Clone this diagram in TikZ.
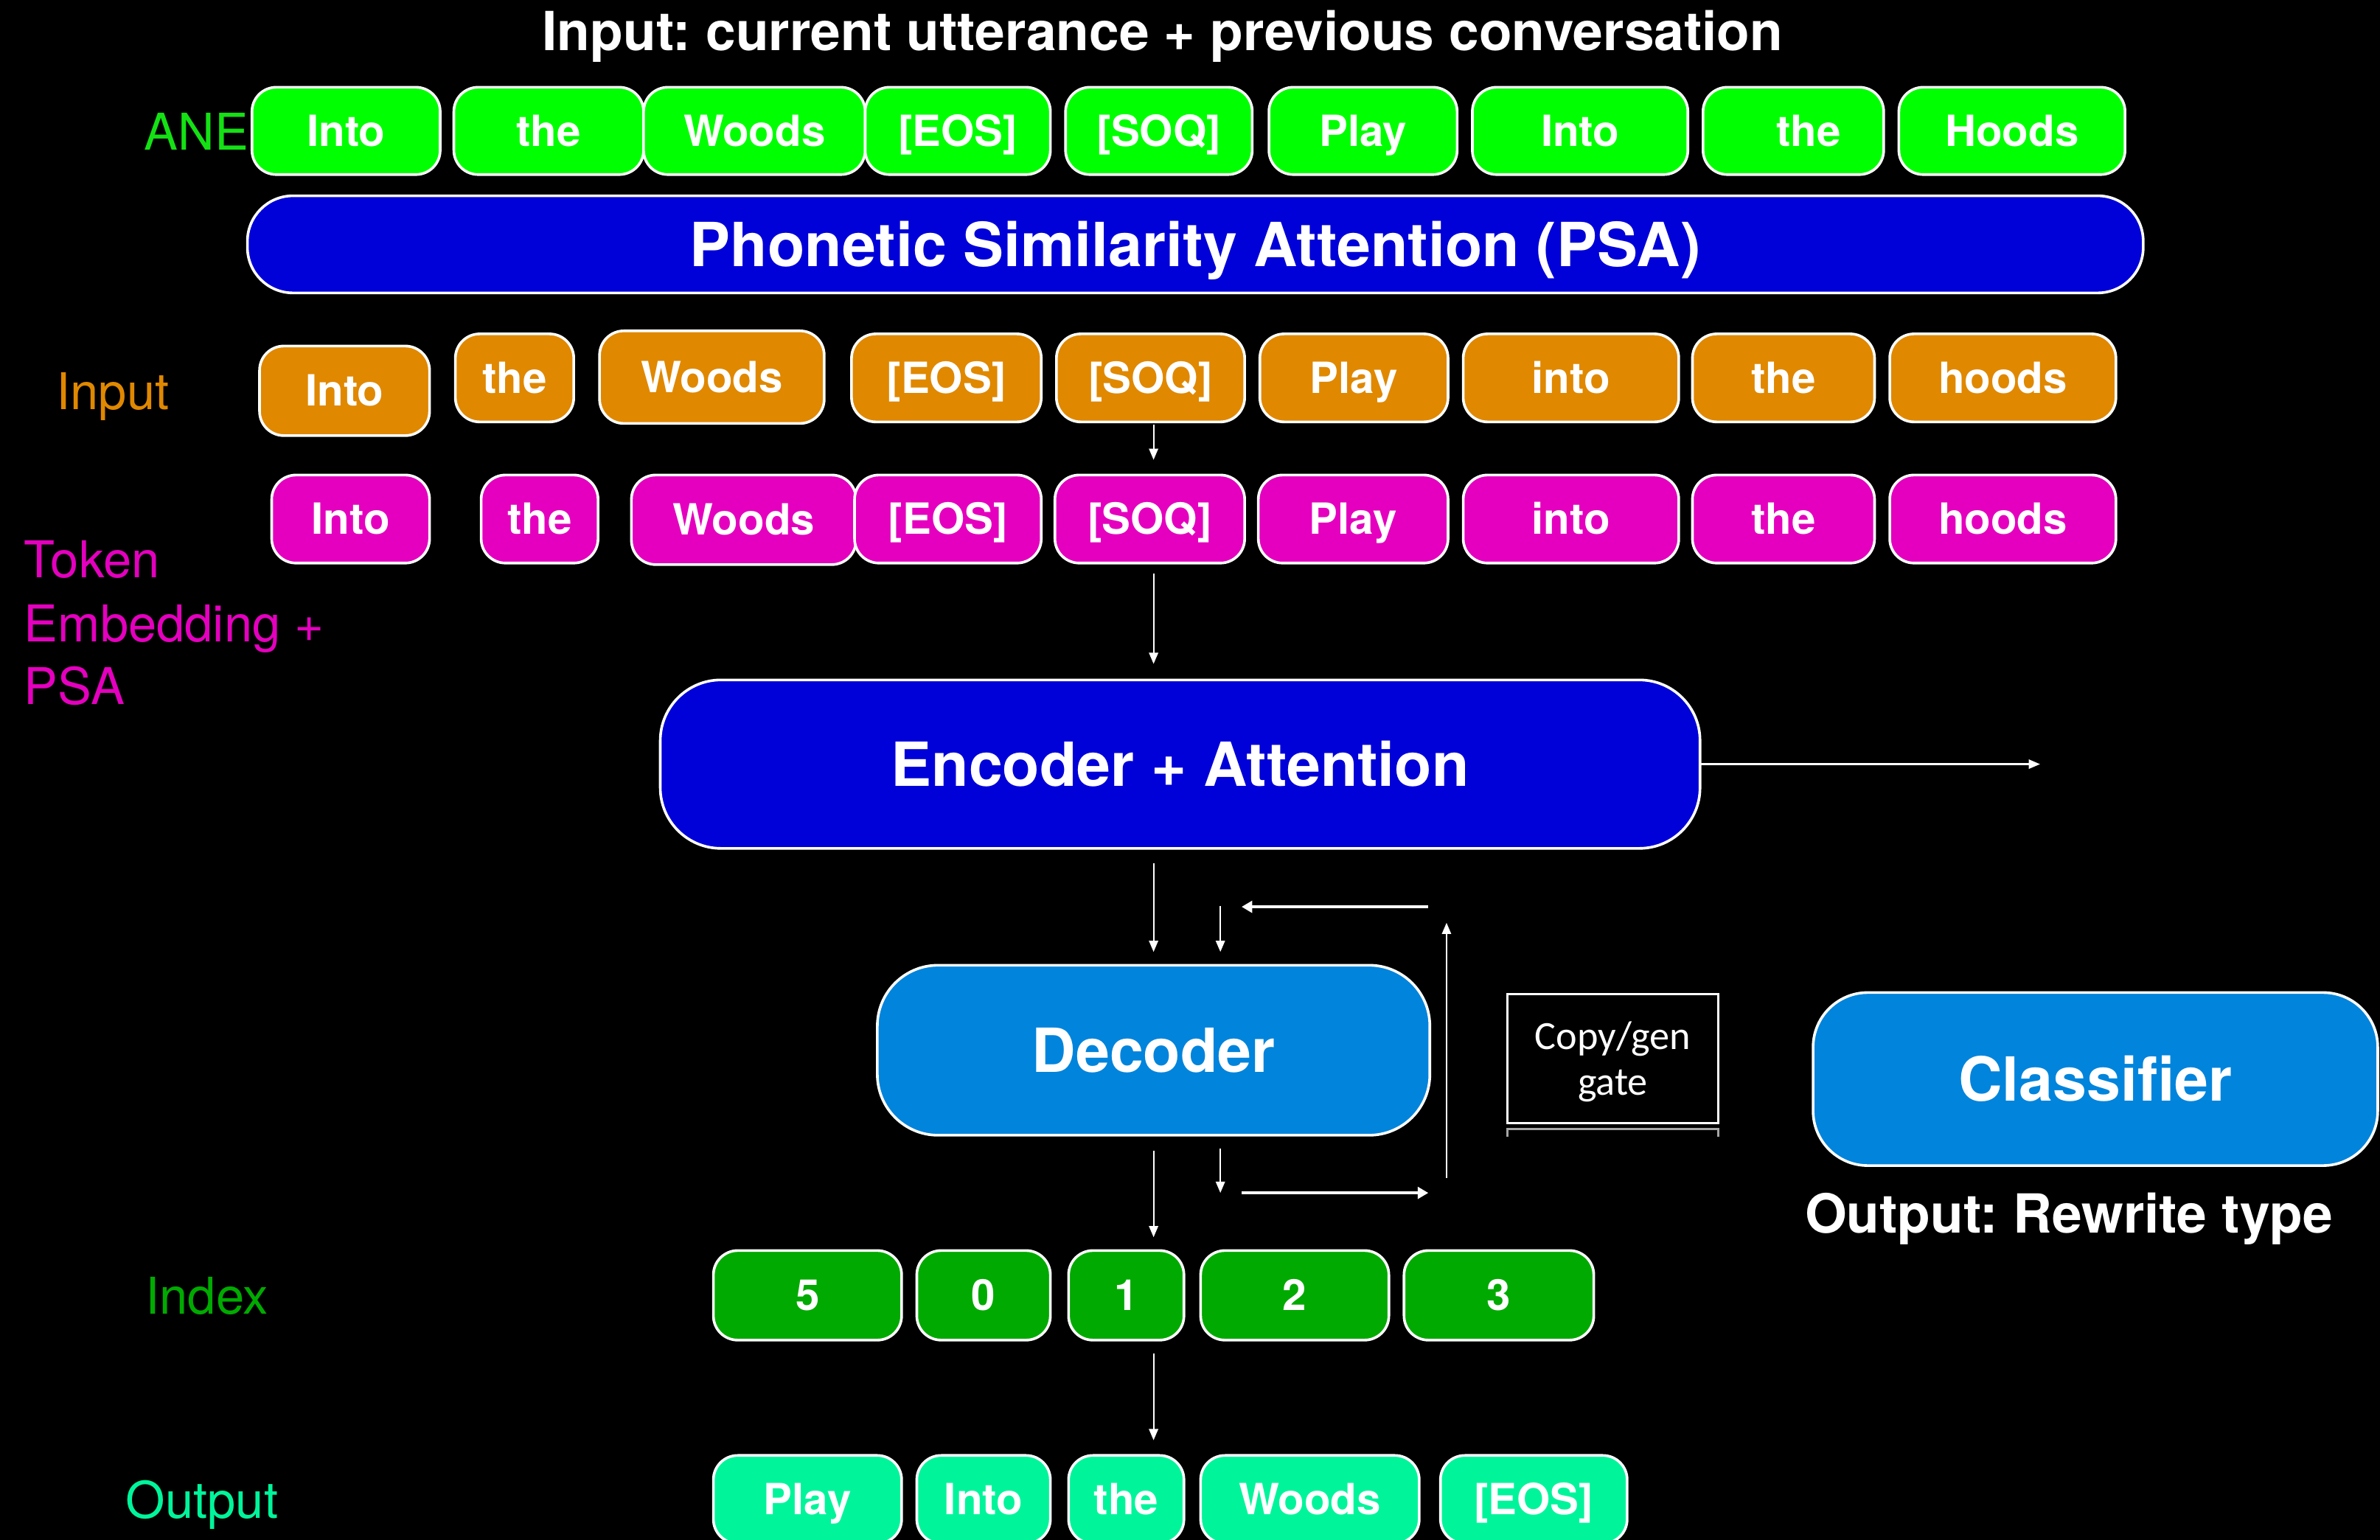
\documentclass[tikz,border=0pt]{standalone}
\usepackage{fontspec}
\setmainfont{TeX Gyre Heros}
\newfontfamily\gillfont{Carlito}
\usetikzlibrary{arrows.meta}
\frenchspacing
\definecolor{aneg}{RGB}{0,255,0}
\definecolor{anel}{RGB}{20,225,20}
\definecolor{psab}{RGB}{0,0,216}
\definecolor{inor}{RGB}{224,136,0}
\definecolor{magt}{RGB}{228,0,190}
\definecolor{decb}{RGB}{0,132,220}
\definecolor{idxg}{RGB}{0,170,0}
\definecolor{outm}{RGB}{0,245,155}
\tikzset{
 tok/.style={draw=white, line width=1pt, rounded corners=0.32cm, inner sep=0pt, outer sep=0pt, text=white,
   font=\fontsize{16.1}{18}\selectfont\bfseries, text height=11.5pt, text depth=0pt},
 bigbox/.style={draw=white, line width=1pt, inner sep=0pt, outer sep=0pt, text=white,
   font=\fontsize{22.8}{26}\selectfont\bfseries, text height=16.4pt, text depth=0pt},
 lbl/.style={inner sep=0pt, outer sep=0pt, anchor=base west, font=\fontsize{19}{24}\selectfont},
 ttl/.style={inner sep=0pt, outer sep=0pt, anchor=base, text=white, font=\fontsize{20.2}{24}\selectfont\bfseries},
 gatebox/.style={draw=white, line width=0.8pt, fill=black, inner sep=0pt, outer sep=0pt, text=white, align=center,
   font=\gillfont\fontsize{15}{17.1}\selectfont, text height=0.956cm, text depth=0pt},
 arr/.style={white, line width=0.6pt, -{Triangle[length=4.2pt,width=3.4pt]}},
 arrb/.style={white, line width=1.1pt, -{Triangle[length=4pt,width=4.4pt]}},
}
\newcommand\tb[7]{\node[tok,fill=#6,minimum width={(#3-#2)*0.02cm},minimum height={(#5-#4)*0.02cm}] (#1) at ({(#2+#3)/2},{(#4+#5)/2}) {#7};}
\begin{document}
\begin{tikzpicture}[x=0.02cm,y=-0.02cm]
\useasboundingbox (0,0) rectangle (1568,1014.7);
\fill[black] (0,0) rectangle (1568,1014.7);
\clip (0,0) rectangle (1568,1014.7);

% title
\node[ttl] (title) at (766,33.5) {Input: current utterance + previous conversation};

% ANE row
\node[lbl,text=anel] (lane) at (95,99) {ANE};
\tb{a1}{166}{290}{57.5}{115}{aneg}{Into}
\tb{a2}{299}{424}{57.5}{115}{aneg}{the}
\tb{a3}{424}{570}{57.5}{115}{aneg}{Woods}
\tb{a4}{570}{692}{57.5}{115}{aneg}{[EOS]}
\tb{a5}{702}{825}{57.5}{115}{aneg}{[SOQ]}
\tb{a6}{836}{960}{57.5}{115}{aneg}{Play}
\tb{a7}{970}{1112}{57.5}{115}{aneg}{Into}
\tb{a8}{1122}{1241}{57.5}{115}{aneg}{\hspace*{0.4cm}the}
\tb{a9}{1251}{1400}{57.5}{115}{aneg}{Hoods}

% PSA bar
\node[bigbox,fill=psab,rounded corners=0.6cm,minimum width={1249*0.02cm},minimum height={64*0.02cm}] (psa) at (787.5,161) {Phonetic Similarity Attention (PSA)};

% Input row
\node[lbl,text=inor] (linput) at (37,270) {Input};
\tb{i1}{171}{283}{228}{287}{inor}{Into}
\tb{i2}{300}{378}{220}{278}{inor}{the}
\tb{i3}{395}{543}{218}{279}{inor}{Woods}
\tb{i4}{561}{686}{220}{278}{inor}{[EOS]}
\tb{i5}{696}{820}{220}{278}{inor}{[SOQ]}
\tb{i6}{830}{954}{220}{278}{inor}{Play}
\tb{i7}{964}{1106}{220}{278}{inor}{into}
\tb{i8}{1115}{1235}{220}{278}{inor}{the}
\tb{i9}{1245}{1394}{220}{278}{inor}{hoods}

% Token row
\node[lbl,text=magt] (ltok1) at (16,380.8) {Token};
\node[lbl,text=magt] (ltok2) at (16,422.6) {Embedding +};
\node[lbl,text=magt] (ltok3) at (16,464) {PSA};
\tb{t1}{179}{283}{313}{371}{magt}{Into}
\tb{t2}{317}{394}{313}{371}{magt}{the}
\tb{t3}{416}{564}{313}{372}{magt}{Woods}
\tb{t4}{563}{686}{313}{371}{magt}{[EOS]}
\tb{t5}{695}{820}{313}{371}{magt}{[SOQ]}
\tb{t6}{829}{954}{313}{371}{magt}{Play}
\tb{t7}{964}{1106}{313}{371}{magt}{into}
\tb{t8}{1115}{1235}{313}{371}{magt}{the}
\tb{t9}{1245}{1394}{313}{371}{magt}{hoods}

% Encoder
\node[bigbox,fill=psab,rounded corners=0.8cm,minimum width={685*0.02cm},minimum height={111*0.02cm}] (enc) at (777.5,503.5) {Encoder + Attention};
% Decoder
\node[bigbox,fill=decb,rounded corners=0.8cm,minimum width={364*0.02cm},minimum height={112*0.02cm}] (dec) at (760,692) {Decoder};
% Classifier
\node[bigbox,fill=decb,rounded corners=0.72cm,minimum width={372*0.02cm},minimum height={114*0.02cm}] (cls) at (1380.5,711) {Classifier};
\node[ttl] (clsout) at (1363,812.5) {Output: Rewrite type};

% Copy/gen gate
\node[gatebox,minimum width={139*0.02cm},minimum height={85*0.02cm}] (gate) at (1062.5,697.5) {Copy/gen\\gate};
\draw[gray!70,line width=0.9pt] (993,749) -- (993,744) -- (1132,744) -- (1132,749);

% Index row
\node[lbl,text=idxg] (lidx) at (96,866) {Index};
\tb{x1}{470}{594}{824}{883}{idxg}{5}
\tb{x2}{604}{692}{824}{883}{idxg}{0}
\tb{x3}{704}{780}{824}{883}{idxg}{1}
\tb{x4}{791}{915}{824}{883}{idxg}{2}
\tb{x5}{925}{1050}{824}{883}{idxg}{3}

% Output row
\node[lbl,text=outm] (lout) at (83,1000.5) {Output};
\tb{o1}{470}{594}{959}{1017}{outm}{Play}
\tb{o2}{604}{692}{959}{1017}{outm}{Into}
\tb{o3}{704}{780}{959}{1017}{outm}{the}
\tb{o4}{791}{935}{959}{1017}{outm}{Woods}
\tb{o5}{949}{1072}{959}{1017}{outm}{[EOS]}

% coordinates for free ends
\coordinate (encout) at (1344,503.5);
\coordinate (lpA) at (941,597.5);
\coordinate (lpB) at (818,597.5);
\coordinate (lpC) at (804,597);
\coordinate (lpD) at (953,776);
\coordinate (lpE) at (953,608);
\coordinate (lpF) at (804,757);
\coordinate (lpG) at (804,786);
\coordinate (lpH) at (818,786);
\coordinate (lpI) at (941,786);

% connectors
\draw[arr,shorten <=1pt,shorten >=5.7pt] (760,278) -- (760,313);
\draw[arr,shorten <=4pt,shorten >=6pt] (dec.north |- t5.south) -- (dec.north |- enc.north);
\draw[arr] (enc.east) -- (encout);
\draw[arr,shorten <=5.7pt,shorten >=5pt] (dec.north |- enc.south) -- (dec.north);
\draw[arrb] (lpA) -- (lpB);
\draw[arr,shorten >=5pt] (lpC) -- (lpC |- dec.north);
\draw[arr] (lpD) -- (lpE);
\draw[arr] (lpF) -- (lpG);
\draw[arrb] (lpH) -- (lpI);
\draw[arr,shorten <=5.7pt,shorten >=5pt] (dec.south) -- (dec.south |- x3.north);
\draw[arr,shorten <=5pt,shorten >=5.7pt] (dec.south |- x3.south) -- (dec.south |- o3.north);
\end{tikzpicture}
\end{document}
